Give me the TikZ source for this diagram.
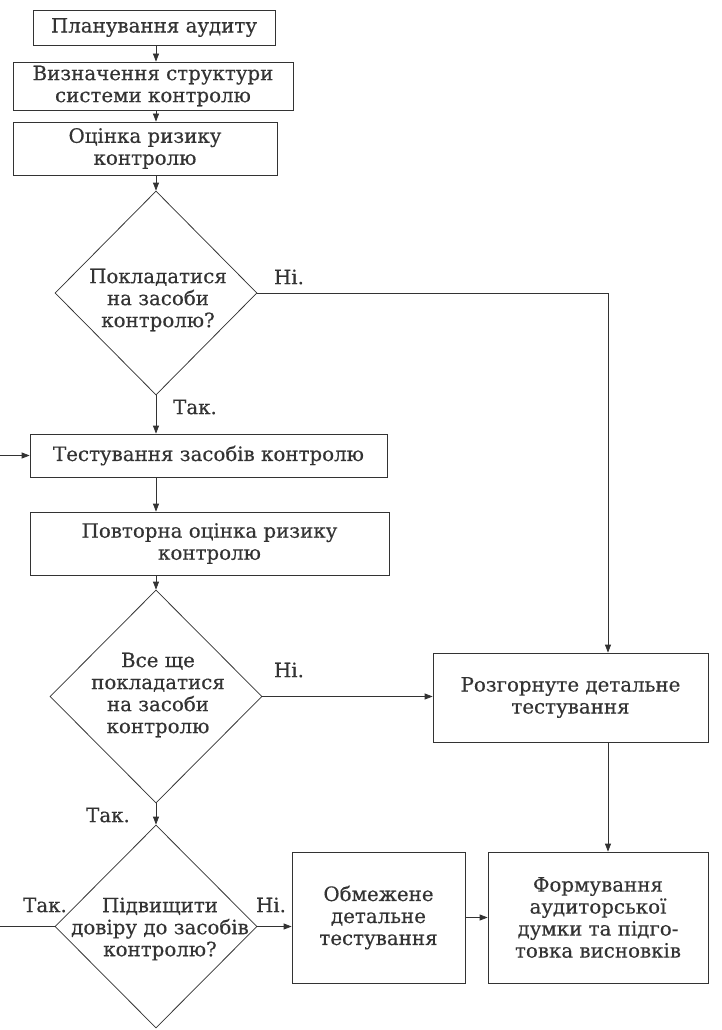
\documentclass[tikz,border=0pt]{standalone}
\usepackage{fontspec}
\setmainfont{DejaVu Serif}[FakeBold=0.35]
\usetikzlibrary{arrows.meta,shapes.geometric}
\definecolor{ink}{HTML}{333333}
\begin{document}
\begin{tikzpicture}[x=1pt,y=-1pt,
  every node/.style={text=ink, font=\fontsize{19.8}{22}\selectfont},
  box/.style={draw=ink, line width=0.75pt, inner sep=0pt, align=center},
  dia/.style={draw=ink, line width=0.75pt, diamond, inner sep=0pt},
  lab/.style={inner sep=0pt, align=center},
  arr/.style={draw=ink, line width=0.75pt, -{Triangle[length=8pt,width=6pt]}},
  ln/.style={draw=ink, line width=0.75pt}]
\useasboundingbox (0,0) rectangle (722,1030);
\fill[white] (0,0) rectangle (722,1030);

\node[box, minimum width=242pt, minimum height=35pt] (b1) at (154,27.5) {Планування аудиту};
\node[box, minimum width=280pt, minimum height=48pt] (b2) at (153,86) {Визначення структури\\системи контролю};
\node[box, minimum width=264pt, minimum height=53pt] (b3) at (145,148.5) {Оцінка ризику\\контролю};
\node[dia, minimum width=202pt, minimum height=204pt] (d1) at (156,293) {};
\node[lab] (t1) at (158,300) {Покладатися\\на засоби\\контролю?};
\node[box, minimum width=357pt, minimum height=43pt] (b4) at (208.5,455.5) {Тестування засобів контролю};
\node[box, minimum width=359pt, minimum height=63pt] (b5) at (209.5,543.5) {Повторна оцінка ризику\\контролю};
\node[dia, minimum width=212pt, minimum height=213pt] (d2) at (156,696.5) {};
\node[lab] (t2) at (158,695) {Все ще\\покладатися\\на засоби\\контролю};
\node[dia, minimum width=202pt, minimum height=203pt] (d3) at (156,926.5) {};
\node[lab] (t3) at (160,929) {Підвищити\\довіру до засобів\\контролю?};
\node[box, minimum width=275pt, minimum height=89pt] (b6) at (570.5,697.5) {Розгорнуте детальне\\тестування};
\node[box, minimum width=173pt, minimum height=131pt] (b7) at (378.5,917.5) {Обмежене\\детальне\\тестування};
\node[box, minimum width=220pt, minimum height=131pt] (b8) at (598,917.5) {Формування\\аудиторської\\думки та підго-\\товка висновків};

\node[lab] (n1) at (289,277) {Ні.};
\node[lab] (y1) at (195,407) {Так.};
\node[lab] (n2) at (289,670) {Ні.};
\node[lab] (y2) at (108,815) {Так.};
\node[lab] (y3) at (45,905) {Так.};
\node[lab] (n3) at (271,905) {Ні.};

\coordinate (c1) at (608,293);
\coordinate (lin) at (0,455.5);
\coordinate (lout) at (0,926.5);

\draw[arr] (b1.south -| d1.north) -- (b2.north -| d1.north);
\draw[arr] (b2.south -| d1.north) -- (b3.north -| d1.north);
\draw[arr] (b3.south -| d1.north) -- (d1.north);
\draw[arr] (d1.south) -- (b4.north -| d1.south);
\draw[arr] (b4.south -| d2.north) -- (b5.north -| d2.north);
\draw[arr] (b5.south -| d2.north) -- (d2.north);
\draw[arr] (d2.south) -- (d3.north);
\draw[arr] (d1.east) -- (c1) -- (b6.north -| c1);
\draw[arr] (d2.east) -- (b6.west |- d2.east);
\draw[arr] (b6.south -| c1) -- (b8.north -| c1);
\draw[arr] (d3.east) -- (b7.west |- d3.east);
\draw[arr] (b7.east) -- (b8.west);
\draw[ln] (d3.west) -- (lout);
\draw[arr] (lin) -- (b4.west);
\end{tikzpicture}
\end{document}
